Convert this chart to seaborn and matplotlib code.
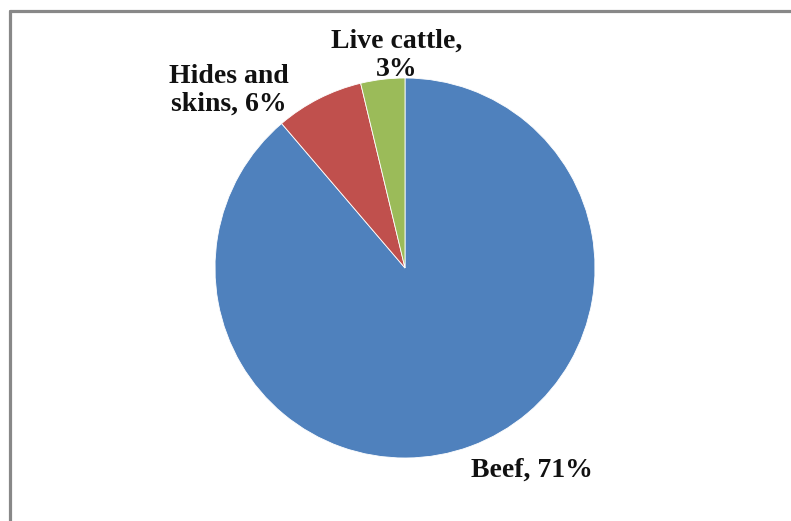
import matplotlib
matplotlib.use("Agg")
import matplotlib.pyplot as plt
import seaborn as sns
from matplotlib.lines import Line2D

sns.set_theme(style="white")
plt.rcParams['font.family'] = ['Liberation Serif', 'DejaVu Serif']

categories = ["Beef", "Hides and skins", "Live cattle"]
values = [71, 6, 3]
label_texts = ["Beef, 71%", "Hides and\nskins, 6%", "Live cattle,\n3%"]
colors = ["#4F81BD", "#C0504D", "#9BBB59"]

W, H = 791, 521
fig = plt.figure(figsize=(W / 100, H / 100), dpi=100)
fig.patch.set_facecolor("white")

# pie axes: center (405,268) px, radius 190 px
cx, cy, r = 405, 268, 190
ax = fig.add_axes([(cx - r) / W, (H - cy - r) / H, 2 * r / W, 2 * r / H])
ax.pie(values, colors=colors, startangle=90, counterclock=False, radius=1,
       wedgeprops=dict(edgecolor="white", linewidth=0.6))
ax.set_xlim(-1, 1)
ax.set_ylim(-1, 1)
ax.set_aspect("equal")
ax.axis("off")

label_pos = [(0.668, -1.063), (-0.926, 0.935), (-0.042, 1.12)]
for txt, (lx, ly) in zip(label_texts, label_pos):
    ax.text(lx, ly, txt, ha="center", va="center", fontsize=20, fontweight="bold",
            color="#111111", linespacing=1.17, clip_on=False)

# outer frame (top and left edges visible)
fx0 = 9.5 / W
fy0 = 1 - 10.5 / H
fig.add_artist(Line2D([fx0, 1.01], [fy0, fy0], transform=fig.transFigure,
                      color="#888888", linewidth=2.3))
fig.add_artist(Line2D([fx0, fx0], [fy0, -0.01], transform=fig.transFigure,
                      color="#888888", linewidth=2.3))

fig.savefig("out.png", dpi=100, facecolor="white")
